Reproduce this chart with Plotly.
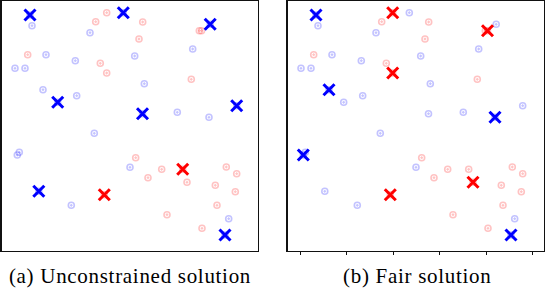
import plotly.graph_objects as go

# Data points (group B = blue, group R = red)
blue_x = [30.5, 88.5, 44.5, 73.8, 133.2, 13.5, 23.5, 41.5, 75.2, 191.2, 142.8, 175.8, 207.5,
          92.8, 15.8, 17.8, 128.5, 69.8, 227.2, 121.8, 56.2, 141.0, 235.2, 208.7, 37.3, 28.5, 223.5]
blue_y = [224.8, 217.8, 195.8, 189.8, 194.5, 182.2, 182.2, 160.8, 154.8, 201.5, 166.8, 138.2, 133.2,
          117.2, 95.5, 98.2, 83.2, 45.2, 31.8, 237.8, 148.2, 136.8, 144.8, 226.2, 59.2, 235.5, 15.5]
red_x = [105.2, 94.2, 141.2, 200.0, 137.5, 26.2, 98.8, 105.2, 189.8, 134.2, 160.2, 146.5, 185.5,
         224.8, 235.2, 213.8, 233.8, 215.5, 165.5, 200.5, 181.2, 102.8, 197.8]
red_y = [237.8, 228.8, 228.5, 219.8, 211.5, 195.8, 187.2, 177.5, 171.2, 92.8, 81.2, 72.8, 68.2,
         83.5, 76.8, 65.2, 58.8, 45.2, 35.8, 22.2, 81.2, 55.8, 219.8]

# Chosen centers (indices into the point lists)
unc_blue_centers = [25, 19, 23, 20, 22, 21, 24, 26]
unc_red_centers = [21, 20]
fair_blue_centers = [25, 7, 14, 12, 26]
fair_red_centers = [0, 7, 3, 21, 12]

captions = ["(a) Unconstrained solution", "(b) Fair solution"]

W, H = 546, 288
fig = go.Figure()

panels = [
    ("x", "y", unc_blue_centers, unc_red_centers),
    ("x2", "y2", fair_blue_centers, fair_red_centers),
]

pt_blue = "rgba(40,40,255,0.28)"
pt_red = "rgba(255,40,40,0.28)"

for xa, ya, bc, rc in panels:
    fig.add_trace(go.Scatter(x=blue_x, y=blue_y, mode="markers", xaxis=xa, yaxis=ya,
                             marker=dict(symbol="circle-open-dot", size=6, color=pt_blue,
                                         line=dict(width=1.6, color=pt_blue)),
                             showlegend=False, hoverinfo="skip"))
    fig.add_trace(go.Scatter(x=red_x, y=red_y, mode="markers", xaxis=xa, yaxis=ya,
                             marker=dict(symbol="circle-open-dot", size=6, color=pt_red,
                                         line=dict(width=1.6, color=pt_red)),
                             showlegend=False, hoverinfo="skip"))
    fig.add_trace(go.Scatter(x=[blue_x[i] for i in bc], y=[blue_y[i] for i in bc], mode="markers",
                             xaxis=xa, yaxis=ya,
                             marker=dict(symbol="x-thin", size=11, color="#0000ff",
                                         line=dict(width=3, color="#0000ff")),
                             showlegend=False, hoverinfo="skip"))
    fig.add_trace(go.Scatter(x=[red_x[i] for i in rc], y=[red_y[i] for i in rc], mode="markers",
                             xaxis=xa, yaxis=ya,
                             marker=dict(symbol="x-thin", size=11, color="#ff0000",
                                         line=dict(width=3, color="#ff0000")),
                             showlegend=False, hoverinfo="skip"))

ydom = [(H - 250.5) / H, (H - 1) / H]
ax_common = dict(range=[0, 256], showgrid=False, zeroline=False, showline=True, mirror=True,
                 linecolor="#111111", linewidth=1.6, showticklabels=False, ticks="")
ay_common = dict(range=[0, 249.5], showgrid=False, zeroline=False, showline=True, mirror=True,
                 linecolor="#111111", linewidth=1.6, showticklabels=False, ticks="")

fig.update_layout(
    width=W, height=H,
    margin=dict(l=0, r=0, t=0, b=0),
    paper_bgcolor="white", plot_bgcolor="white",
    xaxis=dict(domain=[1.5 / W, 257.5 / W], anchor="y", **ax_common),
    yaxis=dict(domain=ydom, anchor="x", **ay_common),
    xaxis2=dict(domain=[287.5 / W, 543.5 / W], anchor="y2",
                **{**ax_common, "ticks": "outside", "ticklen": 3, "tickwidth": 1,
                   "tickcolor": "#111111",
                   "tickvals": [12.5, 59.0, 105.5, 152.0, 198.5, 245.0]}),
    yaxis2=dict(domain=ydom, anchor="x2", **ay_common),
    annotations=[
        dict(text=captions[0], x=129.5 / W, y=(H - 276) / H, xref="paper", yref="paper",
             showarrow=False, xanchor="center", yanchor="middle",
             font=dict(family="Liberation Serif", size=21, color="black")),
        dict(text=captions[1], x=417 / W, y=(H - 276) / H, xref="paper", yref="paper",
             showarrow=False, xanchor="center", yanchor="middle",
             font=dict(family="Liberation Serif", size=21, color="black")),
    ],
)

fig.write_html(
    "out.html",
    config={"displayModeBar": False, "staticPlot": True},
    post_script=(
        "document.body.style.margin='0';document.body.style.overflow='hidden';"
        "document.querySelectorAll('.annotation-text').forEach(function(e){"
        "e.style.letterSpacing='0.7px';});"
    ),
)
